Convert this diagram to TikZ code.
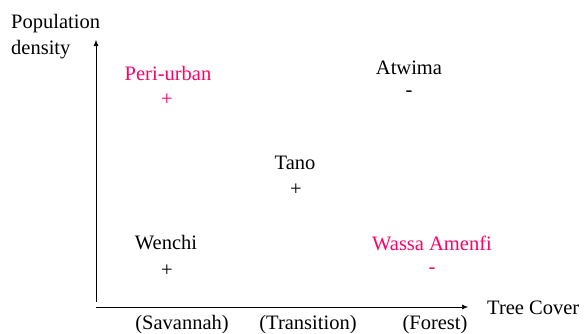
\documentclass[tikz,border=0pt]{standalone}
\usepackage{fontspec}
\setmainfont{Liberation Serif}
\usetikzlibrary{arrows.meta}

\definecolor{hot}{RGB}{255,0,102}

\begin{document}
\begin{tikzpicture}[x=1pt, y=1pt,
  every node/.style={inner sep=1pt, font=\fontsize{20.5}{26}\selectfont},
  axis/.style={semithick, -{Latex[length=6pt, width=5pt]}},
  site/.style={black}, hotsite/.style={text=hot}]
  \useasboundingbox (0,0) rectangle (585,333);

  % axes
  \coordinate (origin) at (96,26);
  \coordinate (ytip) at (96,293);
  \coordinate (xtip) at (468,26);
  \draw[axis] (96,31) -- (ytip);
  \draw[axis] (origin) -- (xtip);

  \node[anchor=west, align=left] (ylabel) at (10,296) {Population\\density};
  \node[anchor=west] (xlabel) at (486,25) {Tree Cover};

  % zones along the tree cover axis
  \node (savannah) at (182,8) {(Savannah)};
  \node (transition) at (308,8) {(Transition)};
  \node (forest) at (435,8) {(Forest)};

  % study sites
  \node[hotsite] (periurban) at (168,260) {Peri-urban};
  \node[hotsite] (periurbansign) at (167,233) {+};
  \node[site] (atwima) at (409,265) {Atwima};
  \node[site] (atwimasign) at (409,239) {-};
  \node[site] (tano) at (295,170) {Tano};
  \node[site] (tanosign) at (296,143) {+};
  \node[site] (wenchi) at (166,90) {Wenchi};
  \node[site] (wenchisign) at (167,62) {+};
  \node[hotsite] (wassa) at (432,90) {Wassa Amenfi};
  \node[hotsite] (wassasign) at (432,62) {-};
\end{tikzpicture}
\end{document}
